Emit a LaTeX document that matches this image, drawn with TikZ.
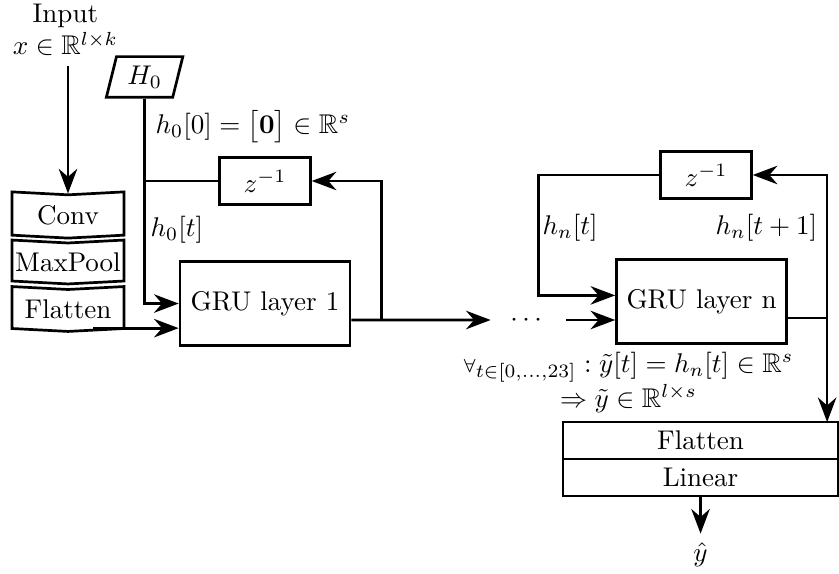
\documentclass[tikz,border=0pt]{standalone}
\usepackage{amsmath,amssymb}
\usepackage{tikz}
\usetikzlibrary{shapes.geometric, shapes.symbols, arrows.meta, positioning, calc}

\begin{document}
\begin{tikzpicture}[
  block/.style={rectangle, draw, line width=1pt, minimum width=2.21cm, minimum height=1.1cm, align=center},
  delay/.style={rectangle, draw, line width=1pt, minimum width=1.18cm, minimum height=0.61cm},
  layer/.style={signal, draw, line width=1pt, signal from=north, signal to=south, signal pointer angle=174,
                minimum width=1.456cm, minimum height=0.57cm, inner xsep=1pt},
  head/.style={rectangle, draw, line width=1pt, minimum width=3.575cm, minimum height=0.48cm, inner sep=0pt, outer sep=0pt},
  lbl/.style={inner sep=2pt},
  arrow/.style={-{Stealth[length=3.2mm, width=2.4mm]}, line width=1pt},
  wire/.style={line width=1pt}
]
\useasboundingbox (0,0) rectangle (10.907,-7.449);

% === INPUT: Conv / MaxPool / Flatten ===
\node[align=center] (input) at (0.85,-0.39) {Input\\$x\in\mathbb{R}^{l\times k}$};
\node[layer] (conv) at (0.884,-2.795) {Conv};
\node[layer] (maxpool) at (0.884,-3.406) {MaxPool};
\node[layer] (flatten) at (0.884,-4.017) {Flatten};

\draw[arrow] (input.south -| conv.north) -- (conv.north);

% === FIRST GRU LAYER ===
\node[trapezium, trapezium left angle=76, trapezium right angle=104, draw, line width=1pt,
      minimum height=0.47cm, inner xsep=4pt] (h0) at (1.88,-1.0) {$H_0$};
\node[block] (gru1) at (3.445,-3.946) {GRU layer 1};
\node[delay] (z1) at (3.445,-2.353) {$z^{-1}$};

\coordinate (flin) at ([yshift=-0.32cm]gru1.west);
\coordinate (g1out) at ([yshift=-0.215cm]gru1.east);

\draw[arrow] (h0.south) |- (gru1.west);
\draw[wire] (z1.west) -- (z1.west -| h0.south);
\draw[arrow] ($(flin -| flatten.south)+(0.33,0)$) -- (flin);
\draw[arrow] ($(g1out)+(0.39,0)$) |- (z1.east);

% Labels layer 1
\node[lbl, anchor=west] (h0init) at (1.945,-1.651) {$h_0[0]=\bigl[\mathbf{0}\bigr]\in\mathbb{R}^s$};
\node[lbl, anchor=west] (h0t) at (1.88,-2.99) {$h_0[t]$};

% === LAST GRU LAYER ===
\node[inner xsep=0.25cm] (dots) at (6.87,-4.16) {$\cdots$};
\node[block] (grun) at (9.12,-3.92) {GRU layer n};
\node[delay] (zn) at (9.178,-2.275) {$z^{-1}$};

\coordinate (gnout) at ([yshift=-0.215cm]grun.east);

\draw[arrow] (g1out) -- (dots.west);
\draw[arrow] (dots.east) -- (grun.west |- dots);
\draw[arrow] (zn.west) -| ([xshift=-1cm, yshift=0.08cm]grun.west) -- ([yshift=0.08cm]grun.west);
\draw[wire] (gnout) -- ++(0.51,0) coordinate (gnturn);
\draw[arrow] (gnturn) |- (zn.east);

% Labels layer n
\node[lbl, anchor=west] (hnt) at (6.976,-2.964) {$h_n[t]$};
\node[lbl, anchor=east] (hnt1) at (10.70,-2.964) {$h_n[t+1]$};
\node[lbl, align=center] (yseq) at (8.17,-4.97)
  {${\scriptstyle\forall}_{t\in[0,\ldots,23]}:\tilde{y}[t]=h_n[t]\in\mathbb{R}^s$\\$\Rightarrow\tilde{y}\in\mathbb{R}^{l\times s}$};

% === OUTPUT HEAD ===
\node[head] (flat2) at (9.107,-5.727) {Flatten};
\node[head, below=0pt of flat2] (linear) {Linear};
\node[below=0.49cm of linear] (yhat) {$\hat{y}$};

\draw[arrow] (gnturn) -- (gnturn |- flat2.north);
\draw[arrow] (linear.south) -- (yhat.north);

\end{tikzpicture}
\end{document}
